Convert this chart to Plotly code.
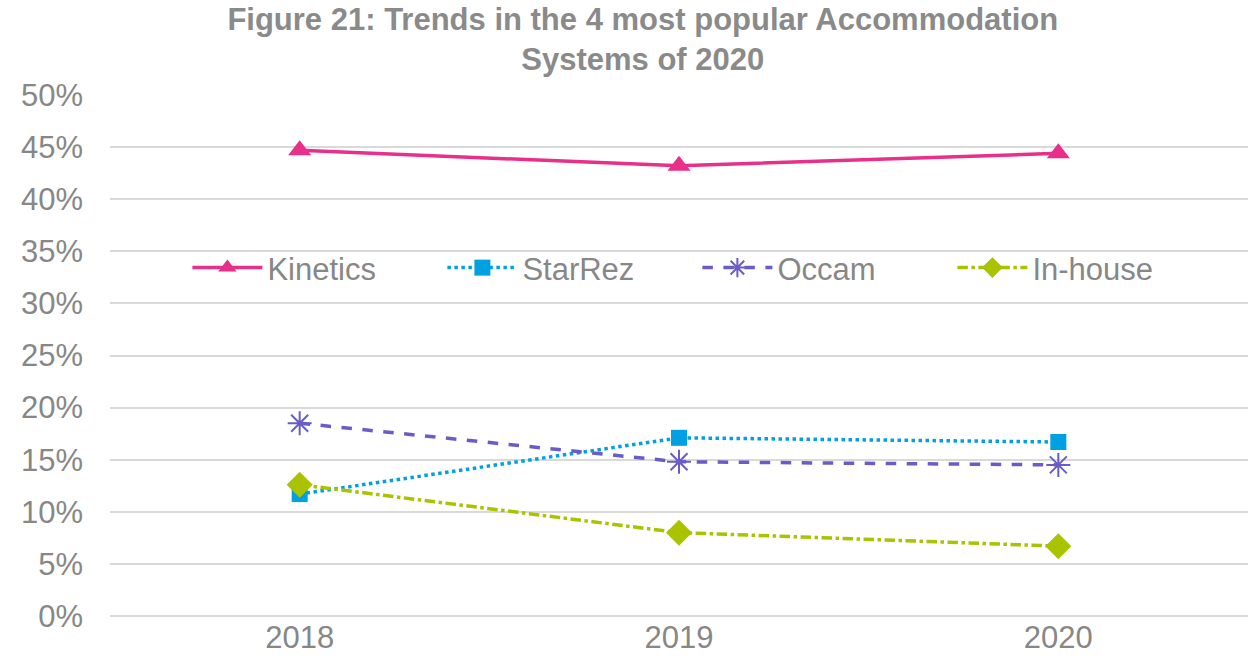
import plotly.graph_objects as go

years = ["2018", "2019", "2020"]
kinetics = [44.7, 43.2, 44.4]
starrez = [11.7, 17.1, 16.7]
occam = [18.5, 14.8, 14.5]
inhouse = [12.6, 8.0, 6.7]
y_ticks = [0, 5, 10, 15, 20, 25, 30, 35, 40, 45, 50]
y_tick_labels = [f"{v}%" for v in y_ticks]

fig = go.Figure()
fig.add_trace(go.Scatter(x=years, y=kinetics, name="Kinetics", mode="lines+markers",
                         line=dict(color="#E8308A", width=3.5, dash="solid"),
                         marker=dict(symbol="triangle-up", size=20, color="#E8308A")))
fig.add_trace(go.Scatter(x=years, y=starrez, name="StarRez", mode="lines+markers",
                         line=dict(color="#00A0E3", width=3.5, dash="dot"),
                         marker=dict(symbol="square", size=16, color="#00A0E3")))
fig.add_trace(go.Scatter(x=years, y=occam, name="Occam", mode="lines+markers",
                         line=dict(color="#6A5CC8", width=3.5, dash="dash"),
                         marker=dict(symbol="asterisk-open", size=20, color="#6A5CC8",
                                     line=dict(color="#6A5CC8", width=2))))
fig.add_trace(go.Scatter(x=years, y=inhouse, name="In-house", mode="lines+markers",
                         line=dict(color="#A9C300", width=3.5, dash="dashdot"),
                         marker=dict(symbol="diamond", size=20, color="#A9C300")))

fig.update_layout(
    width=1253, height=669,
    margin=dict(l=110, r=5, t=95, b=53, autoexpand=False),
    paper_bgcolor="white", plot_bgcolor="white",
    font=dict(family="Liberation Sans, Arial, sans-serif", color="#878787"),
    title=dict(text="<b>Figure 21: Trends in the 4 most popular Accommodation<br>Systems of 2020</b>",
               x=0.513, xanchor="center", yref="container", y=0.955, yanchor="top",
               font=dict(size=31, color="#8a8a8a"), automargin=False),
    showlegend=True,
    legend=dict(orientation="h", x=0.068, xanchor="left", y=0.668, yanchor="middle",
                font=dict(size=31, color="#878787"), bgcolor="rgba(0,0,0,0)",
                entrywidth=170, entrywidthmode="pixels", itemwidth=70),
    xaxis=dict(type="category", range=[-0.5, 2.5], showgrid=False, showline=False,
               ticks="", tickfont=dict(size=31, color="#878787"), automargin=False),
    yaxis=dict(range=[0, 50], tickvals=y_ticks, ticktext=y_tick_labels,
               showgrid=True, gridcolor="#d9d9d9", gridwidth=1.5, zeroline=True,
               zerolinecolor="#d9d9d9", zerolinewidth=1.5, showline=False,
               ticks="", tickfont=dict(size=31, color="#878787"), ticklabelstandoff=26,
               automargin=False),
)

fig.write_html("out.html", config={"displayModeBar": False},
               post_script="document.body.style.margin='0';document.body.style.overflow='hidden';")
